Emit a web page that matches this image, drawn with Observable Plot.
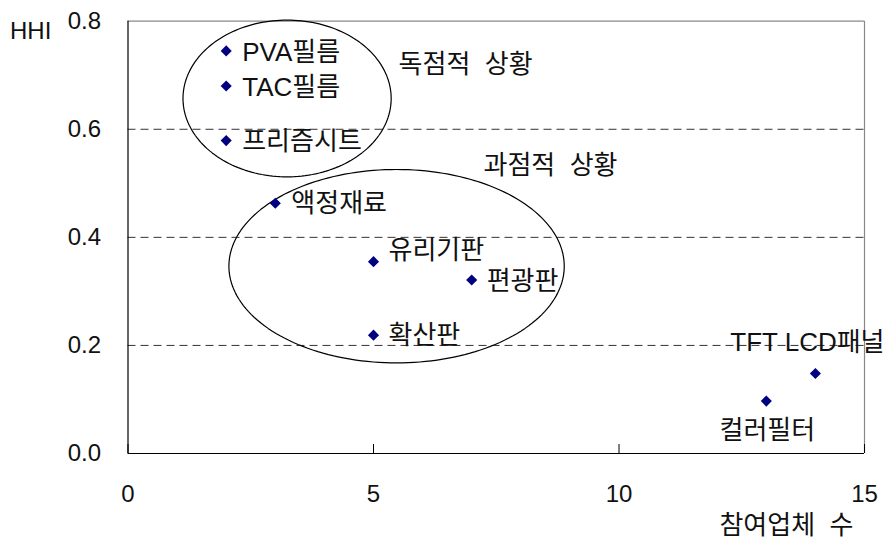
<!DOCTYPE html>
<html>
<head>
<meta charset="utf-8">
<script src="https://cdn.jsdelivr.net/npm/d3@7"></script>
<script src="https://cdn.jsdelivr.net/npm/@observablehq/plot@0.6"></script>
<style>
  body { margin: 0; background: #fff; }
  svg text { white-space: pre; }
</style>
</head>
<body>
<div id="chart"></div>
<script>
// Data
const names = ["PVA필름", "TAC필름", "프리즘시트", "액정재료", "유리기판", "편광판", "확산판", "TFT LCD패널", "컬러필터"];
const firms = [2, 2, 2, 3, 5, 7, 5, 14, 13];
const hhi = [0.745, 0.680, 0.579, 0.463, 0.355, 0.321, 0.219, 0.148, 0.097];

const xTicks = [0, 5, 10, 15];
const yTicks = [0, 0.2, 0.4, 0.6, 0.8];
const gridY = [0.2, 0.4, 0.6];

// Annotation ellipses (center and radii in data units)
const ellipseNames = ["독점적  상황", "과점적  상황"];
const ellipseCx = [3.24, 5.47];
const ellipseCy = [0.657, 0.3466];
const ellipseRx = [2.12, 3.415];
const ellipseRy = [0.145, 0.179];
const regionLabelX = [5.51, 7.24];
const regionLabelY = [0.72, 0.532];

const xLabel = "참여업체  수";
const yLabel = "HHI";

// Build tables
const points = names.map((n, i) => ({name: n, x: firms[i], y: hhi[i]}));
const ellipsePts = [];
ellipseNames.forEach((n, k) => {
  for (let j = 0; j <= 180; j++) {
    const t = (j / 180) * 2 * Math.PI;
    ellipsePts.push({g: n, x: ellipseCx[k] + ellipseRx[k] * Math.cos(t), y: ellipseCy[k] + ellipseRy[k] * Math.sin(t)});
  }
});
const regions = ellipseNames.map((n, k) => ({name: n, x: regionLabelX[k], y: regionLabelY[k]}));

// Label placement (pixel offsets)
const labelPlace = {
  "PVA필름": {dx: 16, dy: 2, a: "start"},
  "TAC필름": {dx: 16, dy: 2, a: "start"},
  "프리즘시트": {dx: 16, dy: 1, a: "start"},
  "액정재료": {dx: 16, dy: 0, a: "start"},
  "유리기판": {dx: 15, dy: -11, a: "start"},
  "편광판": {dx: 15, dy: 2, a: "start"},
  "확산판": {dx: 15, dy: 1, a: "start"},
  "TFT LCD패널": {dx: -8, dy: -31, a: "middle"},
  "컬러필터": {dx: 1, dy: 30, a: "middle"}
};

const font = "'Liberation Sans', Arial, 'Noto Sans CJK KR', sans-serif";
const fsTick = 24;
const fs = 26;

const labelMarks = points.map(p => {
  const o = labelPlace[p.name];
  return Plot.text([p], {x: "x", y: "y", text: "name", dx: o.dx, dy: o.dy, textAnchor: o.a, fontSize: fs, fill: "#111"});
});

const chart = Plot.plot({
  width: 886,
  height: 548,
  marginLeft: 127.5,
  marginRight: 22,
  marginTop: 20.7,
  marginBottom: 95,
  style: {fontFamily: font, fontSize: fsTick + "px", background: "#fff", color: "#111", overflow: "visible"},
  x: {domain: [0, 15]},
  y: {domain: [0, 0.8]},
  marks: [
    Plot.ruleY(gridY, {stroke: "#333", strokeDasharray: "8,5", strokeWidth: 1}),
    Plot.ruleY([0.8], {stroke: "#888", strokeWidth: 1.2}),
    Plot.ruleX([15], {stroke: "#888", strokeWidth: 1.2}),
    Plot.ruleX([0], {stroke: "#000", strokeWidth: 1.2}),
    Plot.ruleY([0], {stroke: "#000", strokeWidth: 1.2}),
    Plot.ruleX(xTicks, {y1: 0, y2: 0, insetTop: -9, stroke: "#000", strokeWidth: 1}),
    Plot.axisX({ticks: xTicks, tickSize: 0, tickPadding: 31, fontSize: fsTick, label: null, tickFormat: d3.format("d")}),
    Plot.axisY({ticks: yTicks, tickSize: 0, tickPadding: 27, fontSize: fsTick, label: null, tickFormat: d3.format(".1f")}),
    Plot.line(ellipsePts, {x: "x", y: "y", z: "g", stroke: "#000", strokeWidth: 1.2}),
    Plot.dot(points, {x: "x", y: "y", symbol: "diamond2", r: 5, fill: "#000080", stroke: "none"}),
    ...labelMarks,
    Plot.text(regions, {x: "x", y: "y", text: "name", textAnchor: "start", fontSize: fs, fill: "#111"}),
    Plot.text([yLabel], {frameAnchor: "top-left", text: d => d, dx: -118, dy: 1, textAnchor: "start", fontSize: fsTick, fill: "#111"}),
    Plot.text([xLabel], {frameAnchor: "bottom-right", text: d => d, dx: -11, dy: 80, textAnchor: "end", fontSize: fs, fill: "#111"})
  ]
});
document.getElementById("chart").appendChild(chart);
</script>
</body>
</html>
